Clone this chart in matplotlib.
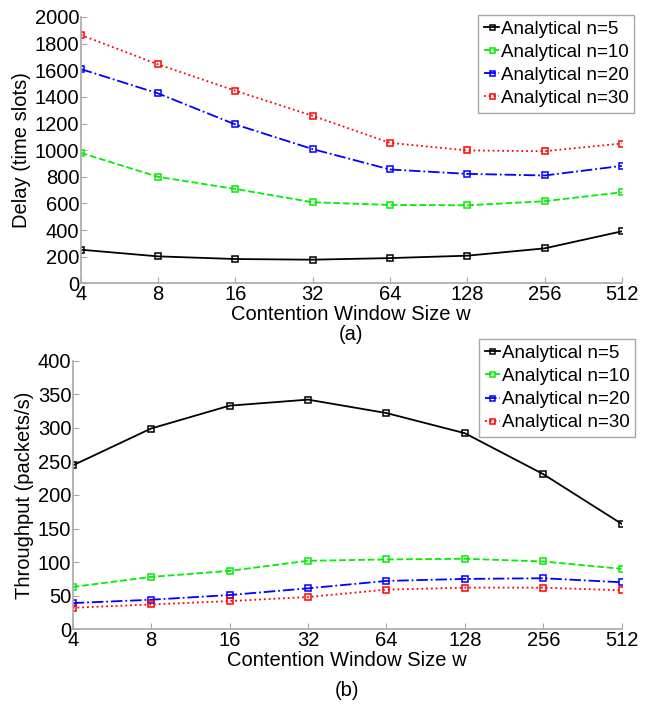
import numpy as np
import matplotlib.pyplot as plt
from matplotlib.ticker import FixedLocator, FixedFormatter

plt.rcParams['font.family'] = ['Liberation Sans', 'DejaVu Sans']

w = [4, 8, 16, 32, 64, 128, 256, 512]
w_labels = ['4', '8', '16', '32', '64', '128', '256', '512']
names = ['Analytical n=5', 'Analytical n=10', 'Analytical n=20', 'Analytical n=30']

# delay (time slots)
delay_n5 = [253, 203, 183, 178, 190, 208, 263, 391]
delay_n10 = [980, 800, 709, 609, 589, 586, 617, 684]
delay_n20 = [1609, 1426, 1193, 1008, 855, 822, 810, 882]
delay_n30 = [1865, 1644, 1446, 1258, 1055, 998, 992, 1050]

# throughput (packets/s)
thr_n5 = [244, 299, 333, 342, 322, 292, 231, 157]
thr_n10 = [63, 78, 87, 102, 104, 105, 101, 90]
thr_n20 = [39, 44, 51, 61, 72, 75, 76, 70]
thr_n30 = [32, 37, 42, 48, 59, 62, 62, 58]

colors = ['#000000', '#00ee00', '#0000ff', '#ff0000']
styles = ['-', '--', '-.', ':']
fs = 14.5
gray = '#a8a8a8'

fig = plt.figure(figsize=(6.52, 7.05), dpi=100)
ax1 = fig.add_axes([0.1238, 0.598, 0.830, 0.378])
ax2 = fig.add_axes([0.1115, 0.1074, 0.842, 0.381])


def draw(ax, series, yticks, ylabel, tag, tag_y, legend_anchor):
    for s, c, ls, lab in zip(series, colors, styles, names):
        ax.plot(w, s, ls, color=c, marker='s', markersize=4.5, mfc='none',
                mew=1.1, lw=1.3, label=lab)
    ax.set_xscale('log', base=2)
    ax.set_xlim(4, 512)
    ax.set_ylim(yticks[0], yticks[-1])
    ax.xaxis.set_major_locator(FixedLocator(w))
    ax.xaxis.set_major_formatter(FixedFormatter(w_labels))
    ax.xaxis.set_minor_locator(FixedLocator([]))
    ax.set_yticks(yticks)
    for sp in ['top', 'right']:
        ax.spines[sp].set_visible(False)
    for sp in ['left', 'bottom']:
        ax.spines[sp].set_color(gray)
        ax.spines[sp].set_linewidth(1.2)
    ax.tick_params(axis='both', direction='in', length=4, color=gray,
                   labelsize=fs, pad=1)
    ax.set_xlabel('Contention Window Size w', fontsize=fs, labelpad=1)
    ax.set_ylabel(ylabel, fontsize=fs, labelpad=3)
    box = ax.get_position()
    fig.text((box.x0 + box.x1) / 2, tag_y, tag, ha='center', va='center',
             fontsize=fs)
    leg = ax.legend(loc='upper right', bbox_to_anchor=legend_anchor,
                    bbox_transform=fig.transFigure, fontsize=13.5,
                    handlelength=0.8, handletextpad=0.1, labelspacing=0.32,
                    borderpad=0.3, borderaxespad=0, fancybox=False,
                    framealpha=1, edgecolor=gray, markerscale=0.8)
    leg.get_frame().set_linewidth(1.0)


draw(ax1, [delay_n5, delay_n10, delay_n20, delay_n30],
     np.arange(0, 2001, 200), 'Delay (time slots)', '(a)', 1 - 335 / 705,
     (0.973, 0.979))
draw(ax2, [thr_n5, thr_n10, thr_n20, thr_n30],
     np.arange(0, 401, 50), 'Throughput (packets/s)', '(b)', 1 - 690 / 705,
     (0.974, 0.519))

fig.savefig('out.png', dpi=100)
